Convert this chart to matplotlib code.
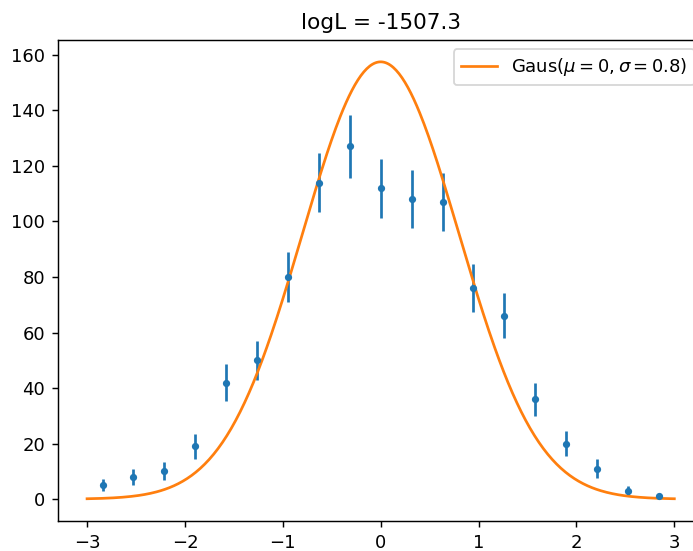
import numpy as np
import matplotlib
matplotlib.use('Agg')
import matplotlib.pyplot as plt

# binned data (19 bins between -3 and 3)
bin_edges_lo = -3.0
bin_edges_hi = 3.0
n_bins = 19
counts = [5, 8, 10, 19, 42, 50, 80, 114, 127, 112, 108, 107, 76, 66, 36, 20, 11, 3, 1]
errors = [2.2, 2.8, 3.2, 4.4, 6.5, 7.1, 8.9, 10.7, 11.3, 10.6, 10.4, 10.3, 8.7, 8.1, 6.0, 4.5, 3.3, 1.7, 1.0]

# model
mu = 0
sigma = 0.8
n_events = 1000
title = 'logL = -1507.3'

edges = np.linspace(bin_edges_lo, bin_edges_hi, n_bins + 1)
centers = 0.5 * (edges[1:] + edges[:-1])
width = edges[1] - edges[0]

xs = np.linspace(bin_edges_lo, bin_edges_hi, 400)
ys = n_events * width / (np.sqrt(2 * np.pi) * sigma) * np.exp(-0.5 * ((xs - mu) / sigma) ** 2)

dpi = 130
fig = plt.figure(figsize=(693 / dpi, 551 / dpi), dpi=dpi)
W, H = 693.0, 551.0
ax = fig.add_axes([57.7 / W, 30 / H, 646 / W, 481 / H])

ax.errorbar(centers, counts, yerr=errors, fmt='.')
ax.plot(xs, ys, label=r'Gaus($\mu=0, \sigma=0.8$)')
ax.set_title(title)
ax.legend(loc='upper right')

fig.savefig('out.png', dpi=dpi)
